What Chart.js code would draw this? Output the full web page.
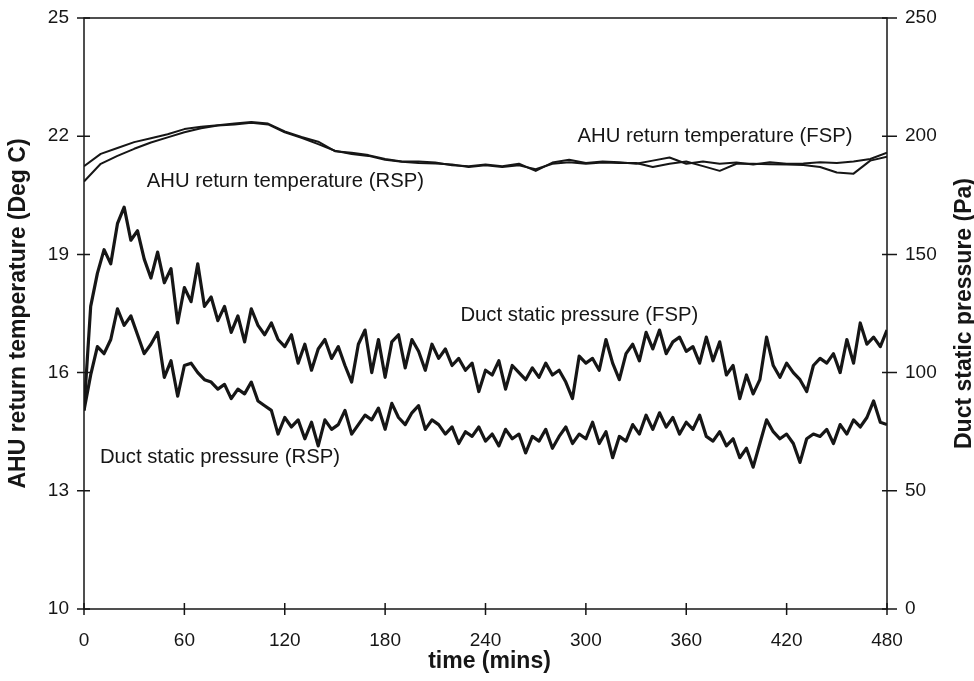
<!DOCTYPE html>
<html>
<head>
<meta charset="utf-8">
<script src="https://cdn.jsdelivr.net/npm/chart.js@4.4.1/dist/chart.umd.min.js"></script>
<style>
html,body{margin:0;padding:0;background:#fff}
canvas{display:block}
</style>
</head>
<body>
<canvas id="chart" width="974" height="681"></canvas>
<script>
// time step of each sampled series (mins)
const tempStep = 10;
const pressStep = 4;

// AHU return temperature (Deg C), every 10 mins from 0 to 480
const tempFSP = [21.24,21.55,21.70,21.85,21.95,22.05,22.18,22.24,22.28,22.32,
  22.36,22.32,22.12,21.98,21.86,21.62,21.58,21.52,21.42,21.36,
  21.36,21.33,21.26,21.24,21.28,21.24,21.30,21.12,21.33,21.40,
  21.32,21.36,21.34,21.30,21.38,21.46,21.30,21.36,21.30,21.33,
  21.28,21.34,21.30,21.31,21.34,21.32,21.36,21.42,21.58];
const tempRSP = [20.85,21.30,21.50,21.68,21.84,21.97,22.10,22.20,22.27,22.30,
  22.34,22.30,22.10,21.96,21.80,21.63,21.55,21.50,21.40,21.35,
  21.32,21.31,21.28,21.22,21.26,21.22,21.26,21.16,21.30,21.34,
  21.30,21.33,21.32,21.32,21.22,21.30,21.36,21.24,21.12,21.30,
  21.30,21.29,21.28,21.27,21.22,21.08,21.05,21.38,21.48];

// Duct static pressure (Pa), every 4 mins from 0 to 480
const pressFSP = [84,128,142,152,146,163,170,156,160,148,
  140,151,138,144,121,136,130,146,128,132,
  122,128,117,124,113,127,120,116,121,114,
  111,116,104,112,101,110,114,106,111,103,
  96,112,118,100,114,98,113,116,102,114,
  109,101,112,106,110,103,106,101,104,92,
  101,99,105,93,103,100,97,102,98,104,
  99,101,96,89,107,104,106,101,114,104,
  97,108,112,105,117,110,118,108,113,115,
  109,111,104,115,105,113,99,103,89,99,
  91,97,115,103,98,104,100,97,92,103,
  106,104,108,100,114,104,121,112,115,111,
  118];
const pressRSP = [84,99,111,108,114,127,120,124,116,108,
  112,117,98,105,90,103,104,100,97,96,
  93,95,89,93,91,96,88,86,84,74,
  81,77,80,72,79,69,80,76,78,84,
  74,78,82,80,85,76,87,81,78,83,
  86,76,80,78,74,77,70,75,73,77,
  71,74,69,76,72,74,66,73,71,76,
  68,73,77,70,74,72,79,70,75,64,
  73,71,78,74,82,76,83,77,81,74,
  79,76,82,73,71,75,69,72,64,68,
  60,70,80,75,72,74,70,62,72,74,
  73,76,70,78,74,80,77,81,88,79,
  78];

// axis ticks
const timeTicks = [0,60,120,180,240,300,360,420,480];
const tempTicks = [10,13,16,19,22,25];
const pressTicks = [0,50,100,150,200,250];

// curve labels: [text, time, value, axis]
const curveLabels = [
  ["AHU return temperature (FSP)", 295, 22.0, "y"],
  ["AHU return temperature (RSP)", 37.5, 20.85, "y"],
  ["Duct static pressure (FSP)", 225, 124, "y1"],
  ["Duct static pressure (RSP)", 9.5, 64, "y1"]
];

function toPoints(vals, step){
  return vals.map((v,i) => ({x: i*step, y: v}));
}

const ink = "#161616";
const font = '"Liberation Sans", Arial, sans-serif';

const framePlugin = {
  id: "frame",
  afterDraw(chart){
    const ctx = chart.ctx;
    const a = chart.chartArea;
    const sx = chart.scales.x, sy = chart.scales.y, sy1 = chart.scales.y1;
    ctx.save();
    ctx.strokeStyle = ink;
    ctx.lineWidth = 1.5;
    ctx.strokeRect(a.left, a.top, a.right - a.left, a.bottom - a.top);

    ctx.beginPath();
    tempTicks.forEach(v => {
      const p = sy.getPixelForValue(v);
      ctx.moveTo(a.left - 7, p); ctx.lineTo(a.left + 6, p);
    });
    pressTicks.forEach(v => {
      const p = sy1.getPixelForValue(v);
      ctx.moveTo(a.right - 5, p); ctx.lineTo(a.right + 10, p);
    });
    timeTicks.forEach(v => {
      const p = sx.getPixelForValue(v);
      ctx.moveTo(p, a.bottom - 6); ctx.lineTo(p, a.bottom + 6);
    });
    ctx.stroke();

    // labels on the curves
    ctx.fillStyle = ink;
    ctx.font = "20.3px " + font;
    ctx.textBaseline = "middle";
    ctx.textAlign = "left";
    curveLabels.forEach(l => {
      const s = chart.scales[l[3]];
      ctx.fillText(l[0], sx.getPixelForValue(l[1]), s.getPixelForValue(l[2]));
    });

    // axis titles
    ctx.font = "bold 23px " + font;
    ctx.textAlign = "center";
    const midY = (a.top + a.bottom) / 2;
    ctx.save();
    ctx.translate(19, midY);
    ctx.rotate(-Math.PI / 2);
    ctx.fillText("AHU return temperature (Deg C)", 0, 0);
    ctx.restore();
    ctx.save();
    ctx.translate(965, midY);
    ctx.rotate(-Math.PI / 2);
    ctx.fillText("Duct static pressure (Pa)", 0, 0);
    ctx.restore();
    ctx.fillText("time (mins)", (a.left + a.right) / 2 + 4, 662);
    ctx.restore();
  }
};

const lineStyle = {pointRadius: 0, tension: 0, borderColor: ink, borderJoinStyle: "round"};

function fixWidth(w){
  return s => { s.width = w; s.paddingTop = 0; s.paddingBottom = 0; };
}

new Chart(document.getElementById("chart"), {
  type: "line",
  data: {
    datasets: [
      Object.assign({label: "AHU return temperature (FSP)", data: toPoints(tempFSP, tempStep), yAxisID: "y", borderWidth: 2}, lineStyle),
      Object.assign({label: "AHU return temperature (RSP)", data: toPoints(tempRSP, tempStep), yAxisID: "y", borderWidth: 2}, lineStyle),
      Object.assign({label: "Duct static pressure (FSP)", data: toPoints(pressFSP, pressStep), yAxisID: "y1", borderWidth: 3.2}, lineStyle),
      Object.assign({label: "Duct static pressure (RSP)", data: toPoints(pressRSP, pressStep), yAxisID: "y1", borderWidth: 3.2}, lineStyle)
    ]
  },
  options: {
    responsive: false,
    animation: false,
    layout: {padding: {top: 18, left: 0, right: 0, bottom: 0}},
    plugins: {legend: {display: false}, tooltip: {enabled: false}},
    scales: {
      x: {
        type: "linear", min: 0, max: 480,
        afterBuildTicks: s => { s.ticks = timeTicks.map(v => ({value: v})); },
        afterFit: s => { s.height = 72; s.paddingLeft = 0; s.paddingRight = 0; },
        grid: {display: false, drawTicks: false},
        border: {display: false},
        ticks: {color: ink, font: {family: font, size: 19}, padding: 20, maxRotation: 0}
      },
      y: {
        position: "left", min: 10, max: 25,
        afterBuildTicks: s => { s.ticks = tempTicks.map(v => ({value: v})); },
        afterFit: fixWidth(84),
        grid: {display: false, drawTicks: false},
        border: {display: false},
        ticks: {color: ink, font: {family: font, size: 19}, padding: 15}
      },
      y1: {
        position: "right", min: 0, max: 250,
        afterBuildTicks: s => { s.ticks = pressTicks.map(v => ({value: v})); },
        afterFit: fixWidth(87),
        grid: {display: false, drawTicks: false},
        border: {display: false},
        ticks: {color: ink, font: {family: font, size: 19}, padding: 18}
      }
    }
  },
  plugins: [framePlugin]
});
</script>
</body>
</html>
